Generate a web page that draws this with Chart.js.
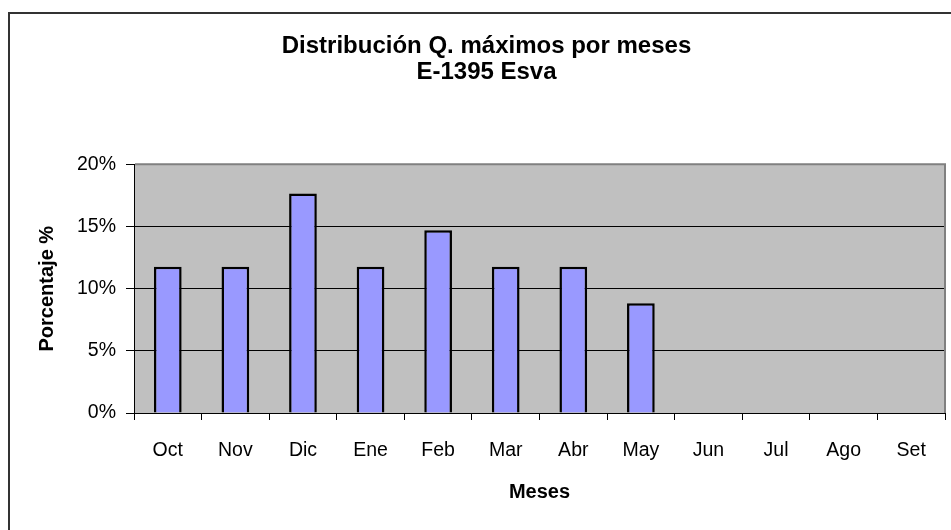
<!DOCTYPE html>
<html>
<head>
<meta charset="utf-8">
<script src="https://cdn.jsdelivr.net/npm/chart.js@4"></script>
<style>
  html, body { margin: 0; padding: 0; background: #fff; }
  #wrap { width: 951px; height: 530px; }
</style>
</head>
<body>
<div id="wrap"><canvas id="chart" width="951" height="530"></canvas></div>
<script>
// data (% of maxima per month)
const months = ['Oct', 'Nov', 'Dic', 'Ene', 'Feb', 'Mar', 'Abr', 'May', 'Jun', 'Jul', 'Ago', 'Set'];
const percentages = [11.76, 11.76, 17.65, 11.76, 14.71, 11.76, 11.76, 8.82, 0, 0, 0, 0];
const yTicks = [0, 5, 10, 15, 20];
const titleLines = ['Distribución Q. máximos por meses', 'E-1395 Esva'];

const FONT = "'Liberation Sans', Arial, sans-serif";

// white page, outer frame, grey plot area
const framePlugin = {
    id: 'frame',
    beforeDraw(chart) {
        const { ctx, chartArea: a } = chart;
        ctx.save();
        ctx.fillStyle = '#fff';
        ctx.fillRect(0, 0, chart.width, chart.height);
        ctx.strokeStyle = '#333';
        ctx.lineWidth = 2;
        ctx.beginPath();
        ctx.moveTo(9, chart.height);
        ctx.lineTo(9, 13);
        ctx.lineTo(chart.width, 13);
        ctx.stroke();
        ctx.fillStyle = '#c0c0c0';
        ctx.fillRect(a.left, a.top, a.right - a.left, a.bottom - a.top);
        ctx.restore();
    },
    afterDraw(chart) {
        const { ctx, chartArea: a } = chart;
        ctx.save();
        ctx.strokeStyle = '#808080';
        ctx.lineWidth = 2;
        ctx.beginPath();
        ctx.moveTo(a.left + 1, a.top);
        ctx.lineTo(a.right, a.top);
        ctx.lineTo(a.right, a.bottom);
        ctx.stroke();
        ctx.restore();
    }
};

const ctx = document.getElementById('chart').getContext('2d');

new Chart(ctx, {
    type: 'bar',
    data: {
        labels: months,
        datasets: [{
            data: percentages,
            backgroundColor: '#9999ff',
            borderColor: '#000',
            borderWidth: 2.5,
            barPercentage: 0.41,
            categoryPercentage: 1
        }]
    },
    options: {
        responsive: false,
        animation: false,
        layout: { padding: { left: 28, right: 6, top: 0, bottom: 0 } },
        plugins: {
            legend: { display: false },
            tooltip: { enabled: false },
            title: {
                display: true,
                text: titleLines,
                color: '#000',
                font: { family: FONT, size: 24, weight: 'bold', lineHeight: 1.07 },
                padding: { top: 34, bottom: 79 }
            }
        },
        scales: {
            x: {
                afterFit(scale) { scale.height = 117; },
                grid: {
                    drawOnChartArea: false,
                    drawTicks: true,
                    tickLength: 7,
                    tickColor: '#000',
                    offset: true
                },
                border: { color: '#000', width: 1 },
                ticks: {
                    color: '#000',
                    padding: 19,
                    font: { family: FONT, size: 19.5 }
                },
                title: {
                    display: true,
                    text: 'Meses',
                    color: '#000',
                    font: { family: FONT, size: 20, weight: 'bold' },
                    padding: 26
                }
            },
            y: {
                min: 0,
                max: 20,
                afterFit(scale) { scale.width = 106; },
                afterBuildTicks(scale) { scale.ticks = yTicks.map(v => ({ value: v })); },
                grid: {
                    color: c => (c.tick && c.tick.value === 20) ? 'rgba(0,0,0,0)' : '#000',
                    tickColor: '#000',
                    tickLength: 8,
                    lineWidth: 1
                },
                border: { color: '#000', width: 1 },
                ticks: {
                    color: '#000',
                    padding: 10,
                    font: { family: FONT, size: 19.5 },
                    callback: v => v + '%'
                },
                title: {
                    display: true,
                    text: 'Porcentaje %',
                    color: '#000',
                    font: { family: FONT, size: 20, weight: 'bold' },
                    padding: 7
                }
            }
        }
    },
    plugins: [framePlugin]
});
</script>
</body>
</html>
